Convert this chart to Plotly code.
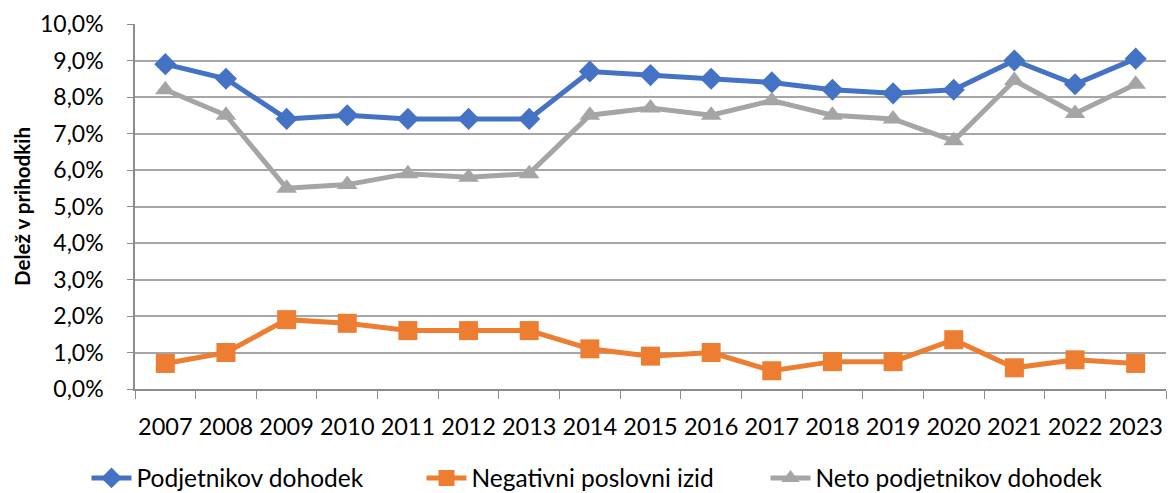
import plotly.graph_objects as go

years = ["2007", "2008", "2009", "2010", "2011", "2012", "2013", "2014", "2015",
         "2016", "2017", "2018", "2019", "2020", "2021", "2022", "2023"]
podjetnikov = [8.9, 8.5, 7.4, 7.5, 7.4, 7.4, 7.4, 8.7, 8.6, 8.5, 8.4, 8.2, 8.1, 8.2, 9.0, 8.35, 9.05]
negativni = [0.7, 1.0, 1.9, 1.8, 1.6, 1.6, 1.6, 1.1, 0.9, 1.0, 0.5, 0.75, 0.75, 1.35, 0.58, 0.8, 0.7]
neto = [8.2, 7.5, 5.5, 5.6, 5.9, 5.8, 5.9, 7.5, 7.7, 7.5, 7.9, 7.5, 7.4, 6.8, 8.45, 7.55, 8.35]

y_ticks = [0, 1, 2, 3, 4, 5, 6, 7, 8, 9, 10]
y_tick_labels = ["0,0%", "1,0%", "2,0%", "3,0%", "4,0%", "5,0%", "6,0%", "7,0%", "8,0%", "9,0%", "10,0%"]

FONT = "Lato"
W, H = 1167, 485

fig = go.Figure()
fig.add_trace(go.Scatter(x=years, y=podjetnikov, name="Podjetnikov dohodek", mode="lines+markers",
                         line=dict(color="#4472C4", width=5), legend="legend",
                         marker=dict(symbol="diamond", size=17, color="#4472C4")))
fig.add_trace(go.Scatter(x=years, y=negativni, name="Negativni poslovni izid", mode="lines+markers",
                         line=dict(color="#ED7D31", width=5), legend="legend2",
                         marker=dict(symbol="square", size=19, color="#ED7D31")))
fig.add_trace(go.Scatter(x=years, y=neto, name="Neto podjetnikov dohodek", mode="lines+markers",
                         line=dict(color="#A5A5A5", width=5), legend="legend3",
                         marker=dict(symbol="triangle-up", size=18, color="#A5A5A5")))

leg_common = dict(orientation="h", xref="container", yref="container", y=15 / H,
                  xanchor="left", yanchor="middle", font=dict(size=24.5, family=FONT),
                  itemwidth=40, bgcolor="rgba(0,0,0,0)")

fig.update_layout(
    width=W, height=H,
    margin=dict(l=127, r=9, t=16, b=104, autoexpand=False),
    paper_bgcolor="white", plot_bgcolor="white",
    font=dict(family=FONT, size=24, color="#000000"),
    showlegend=True,
    legend=dict(x=78.5 / W, **leg_common),
    legend2=dict(x=413.5 / W, **leg_common),
    legend3=dict(x=757.5 / W, **leg_common),
    xaxis=dict(type="category", range=[-0.5, 16.5], showgrid=False, automargin=False,
               showline=True, linecolor="#8c8c8c", linewidth=1.5,
               ticks="outside", tickson="boundaries", ticklen=8, tickcolor="#8c8c8c",
               ticklabelstandoff=16, tickangle=0,
               tickfont=dict(size=23.5, family=FONT)),
    yaxis=dict(range=[0, 10], tickvals=y_ticks, ticktext=y_tick_labels, automargin=False,
               showgrid=True, gridcolor="#a6a6a6", gridwidth=1.5,
               showline=True, linecolor="#8c8c8c", linewidth=1.5,
               ticks="outside", ticklen=6, tickcolor="#8c8c8c", zeroline=False,
               ticklabelstandoff=19,
               tickfont=dict(size=23, family=FONT),
               title=dict(text="<b>Delež v prihodkih</b>", font=dict(size=20.5, family=FONT), standoff=4)),
)

fig.write_html("out.html")
